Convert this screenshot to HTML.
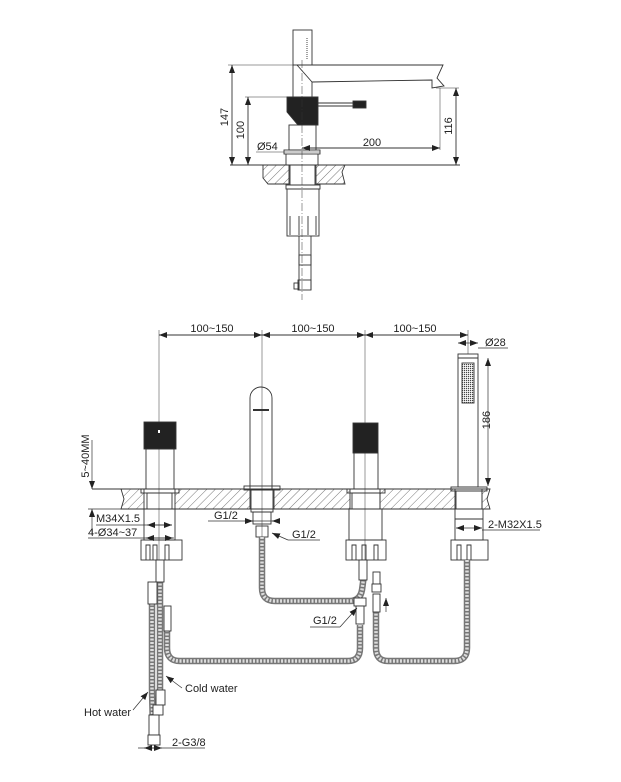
<!DOCTYPE html>
<html><head><meta charset="utf-8"><style>
html,body{margin:0;padding:0;background:#fff;}
svg{display:block;}
text{font-family:"Liberation Sans",sans-serif;fill:#222;}
</style></head><body>
<svg width="621" height="782" viewBox="0 0 621 782" xmlns="http://www.w3.org/2000/svg">
<defs>
<pattern id="h" width="6" height="6" patternUnits="userSpaceOnUse" patternTransform="rotate(45)">
<line x1="0" y1="0" x2="0" y2="6" stroke="#555" stroke-width="0.8"/>
</pattern>
<pattern id="dots" width="2" height="2" patternUnits="userSpaceOnUse">
<rect x="0" y="0" width="1.2" height="1.2" fill="#444"/>
</pattern>
<marker id="a" markerWidth="8" markerHeight="6" refX="8" refY="3" orient="auto" markerUnits="userSpaceOnUse">
<path d="M0,0 L8,3 L0,6 z" fill="#222"/></marker>
<marker id="b" markerWidth="8" markerHeight="6" refX="0" refY="3" orient="auto" markerUnits="userSpaceOnUse">
<path d="M8,0 L0,3 L8,6 z" fill="#222"/></marker>
</defs>
<g fill="none" stroke="#333" stroke-width="0.9">
<!-- ============ TOP VIEW ============ -->
<rect x="293" y="30" width="19" height="35"/>
<line x1="307" y1="38" x2="307" y2="60" stroke-dasharray="1,1"/>
<path d="M297,65 L443,65 L437,78 L444,86 L432,88 L432,80 L312,82"/>
<line x1="297" y1="65" x2="312" y2="82"/>
<line x1="293" y1="65" x2="293" y2="97"/><line x1="312" y1="82" x2="312" y2="97"/>
<path d="M287,97 L318,97 L318,125 L298,125 L287,112 z" fill="#222"/>
<line x1="318" y1="103" x2="353" y2="103"/><line x1="318" y1="106" x2="353" y2="106"/>
<rect x="353" y="101" width="13" height="7" fill="#222"/>
<rect x="289" y="125" width="27" height="25"/>
<rect x="284" y="150" width="36" height="4"/>
<line x1="286" y1="154" x2="286" y2="165"/><line x1="318" y1="154" x2="318" y2="165"/>
<line x1="230" y1="165" x2="460" y2="165"/>
<path d="M263,165 L289,165 L289,184 L268,184 L263,178 z" fill="url(#h)"/>
<path d="M316,165 L345,165 L342,172 L345,184 L316,184 z" fill="url(#h)"/>
<rect x="290" y="165" width="25" height="20"/>
<rect x="286" y="185" width="34" height="4"/>
<rect x="287" y="189" width="32" height="47"/>
<line x1="290" y1="216" x2="290" y2="235"/><line x1="299" y1="216" x2="299" y2="235"/><line x1="308" y1="216" x2="308" y2="235"/><line x1="316" y1="216" x2="316" y2="235"/>
<line x1="299" y1="236" x2="299" y2="290"/><line x1="311" y1="236" x2="311" y2="290"/>
<rect x="299" y="255" width="12" height="10"/>
<rect x="298" y="280" width="13" height="10"/><rect x="294" y="283" width="5" height="6"/>
<line x1="302" y1="60" x2="302" y2="300" stroke-dasharray="8,2,1,2" stroke-width="0.5"/>
<!-- dims -->
<line x1="232" y1="65" x2="232" y2="165" marker-start="url(#b)" marker-end="url(#a)"/>
<line x1="228" y1="65" x2="297" y2="65" stroke-width="0.5"/>
<line x1="248" y1="97" x2="248" y2="165" marker-start="url(#b)" marker-end="url(#a)"/>
<line x1="245" y1="97" x2="287" y2="97" stroke-width="0.5"/>
<line x1="456" y1="88" x2="456" y2="165" marker-start="url(#b)" marker-end="url(#a)"/>
<line x1="436" y1="88" x2="459" y2="88" stroke-width="0.5"/>
<line x1="302" y1="148" x2="440" y2="148" marker-start="url(#b)" marker-end="url(#a)"/>
<line x1="440" y1="88" x2="440" y2="150" stroke-width="0.5"/>
<line x1="256" y1="152" x2="320" y2="152" stroke-width="0.5"/>

<!-- ============ BOTTOM VIEW ============ -->
<line x1="159" y1="330" x2="159" y2="745" stroke-width="0.5"/>
<line x1="262" y1="330" x2="262" y2="540" stroke-width="0.5"/>
<line x1="365" y1="330" x2="365" y2="580" stroke-width="0.5"/>
<line x1="468" y1="330" x2="468" y2="354" stroke-width="0.5"/>
<line x1="159" y1="335" x2="262" y2="335" marker-start="url(#b)" marker-end="url(#a)"/>
<line x1="262" y1="335" x2="365" y2="335" marker-start="url(#b)" marker-end="url(#a)"/>
<line x1="365" y1="335" x2="468" y2="335" marker-start="url(#b)" marker-end="url(#a)"/>
<!-- counter -->
<line x1="92" y1="489" x2="490" y2="489"/>
<path d="M121,489 L144,489 L144,509 L121,509 L124,499 z" fill="url(#h)"/>
<path d="M175,489 L250,489 L250,509 L175,509 z" fill="url(#h)"/>
<path d="M274,489 L350,489 L350,509 L274,509 z" fill="url(#h)"/>
<path d="M380,489 L455,489 L455,509 L380,509 z" fill="url(#h)"/>
<path d="M482,489 L490,489 L487,499 L490,509 L482,509 z" fill="url(#h)"/>
<line x1="144" y1="509" x2="482" y2="509"/>
<!-- left handle -->
<rect x="144" y="422" width="32" height="27" fill="#222"/>
<rect x="158" y="430" width="2" height="3" fill="#fff" stroke="none"/>
<rect x="146" y="449" width="28" height="40"/>
<rect x="141" y="489" width="38" height="4"/>
<rect x="147" y="493" width="25" height="16"/>
<rect x="144" y="509" width="31" height="31"/>
<rect x="141" y="540" width="41" height="20"/>
<path d="M146,560 L146,545 L150,545 L150,560 M153,560 L153,545 L157,545 L157,560 M165,560 L165,545 L169,545 L169,560"/>
<!-- spout -->
<path d="M250,489 L250,398 A11,11 0 0 1 272,398 L272,489"/>
<line x1="253" y1="410" x2="269" y2="410" stroke-width="2"/>
<rect x="244" y="486" width="36" height="4"/>
<rect x="251" y="490" width="22" height="22"/>
<rect x="253" y="512" width="18" height="12"/>
<rect x="256" y="526" width="12" height="11"/>
<!-- right handle -->
<rect x="353" y="423" width="25" height="30" fill="#222"/>
<rect x="354" y="453" width="24" height="36"/>
<rect x="347" y="489" width="38" height="4"/>
<rect x="352" y="493" width="28" height="16"/>
<rect x="349" y="509" width="33" height="31"/>
<rect x="346" y="540" width="40" height="20"/>
<path d="M352,560 L352,545 L356,545 L356,560 M362,560 L362,545 L366,545 L366,560 M374,560 L374,545 L378,545 L378,560"/>
<!-- hand shower -->
<rect x="458" y="354" width="20" height="133"/>
<line x1="458" y1="358" x2="478" y2="358"/>
<rect x="462" y="363" width="12" height="40" fill="url(#dots)"/>
<rect x="451" y="487" width="36" height="4"/>
<rect x="456" y="491" width="26" height="18"/>
<rect x="455" y="509" width="28" height="31"/>
<line x1="455" y1="519" x2="483" y2="519"/>
<rect x="451" y="540" width="37" height="20"/>
<path d="M457,560 L457,545 L461,545 L461,560 M467,560 L467,545 L471,545 L471,560"/>
</g>
<!-- hoses -->
<g fill="none" stroke-linecap="butt">
<g stroke="#777" stroke-width="6.5">
<path d="M262,537 L262,588 Q262,601 275,601 L350,601 Q360,601 362,590 L364,575"/>
<path d="M167,630 L167,648 Q167,661 180,661 L348,661 Q360,661 360,648 L360,625"/>
<path d="M467,560 L467,648 Q467,661 454,661 L388,661 Q376,661 376,648 L376,612"/>
<path d="M152,600 L152,690 L153,730"/>
<path d="M160,580 L160,690 L160,715"/>
</g>
<g stroke="#ddd" stroke-width="3.5" stroke-dasharray="2,1.5">
<path d="M262,537 L262,588 Q262,601 275,601 L350,601 Q360,601 362,590 L364,575"/>
<path d="M167,630 L167,648 Q167,661 180,661 L348,661 Q360,661 360,648 L360,625"/>
<path d="M467,560 L467,648 Q467,661 454,661 L388,661 Q376,661 376,648 L376,612"/>
<path d="M152,600 L152,690 L153,730"/>
<path d="M160,580 L160,690 L160,715"/>
</g>
</g>
<g fill="#fff" stroke="#333" stroke-width="0.9">
<rect x="156" y="560" width="8" height="22"/>
<rect x="148" y="582" width="9" height="22"/>
<rect x="164" y="606" width="7" height="25"/>
<rect x="156" y="690" width="9" height="15"/>
<rect x="153" y="705" width="10" height="10"/>
<rect x="149" y="715" width="10" height="20"/>
<rect x="148" y="735" width="12" height="10"/>
<rect x="359" y="560" width="8" height="20"/>
<rect x="354" y="598" width="12" height="8"/>
<rect x="356" y="606" width="8" height="18"/>
<rect x="373" y="572" width="7" height="12"/>
<rect x="372" y="584" width="9" height="8"/>
<rect x="373" y="594" width="7" height="18"/>
</g>
<!-- leaders -->
<g fill="none" stroke="#333" stroke-width="0.7">
<line x1="92" y1="440" x2="92" y2="489" marker-end="url(#a)"/>
<line x1="92" y1="509" x2="92" y2="535" marker-start="url(#b)"/>
<line x1="88" y1="509" x2="144" y2="509"/>
<line x1="96" y1="525" x2="172" y2="525"/>
<line x1="147" y1="525" x2="172" y2="525" marker-start="url(#b)" marker-end="url(#a)"/>
<line x1="88" y1="538" x2="174" y2="538"/>
<line x1="146" y1="538" x2="173" y2="538" marker-start="url(#b)" marker-end="url(#a)"/>
<line x1="208" y1="521" x2="278" y2="521"/>
<line x1="247" y1="521" x2="253" y2="521" marker-end="url(#a)"/>
<line x1="278" y1="521" x2="272" y2="521" marker-end="url(#a)"/>
<line x1="288" y1="540" x2="272" y2="533" marker-end="url(#a)"/>
<line x1="288" y1="540" x2="320" y2="540"/>
<line x1="458" y1="343" x2="478" y2="343" marker-start="url(#b)" marker-end="url(#a)"/>
<line x1="478" y1="348" x2="508" y2="348"/>
<line x1="488" y1="358" x2="488" y2="486" marker-start="url(#b)" marker-end="url(#a)"/>
<line x1="456" y1="528" x2="482" y2="528" marker-start="url(#b)" marker-end="url(#a)"/>
<line x1="482" y1="530" x2="540" y2="530"/>
<line x1="310" y1="627" x2="340" y2="627"/>
<line x1="340" y1="627" x2="357" y2="608" marker-end="url(#a)"/>
<line x1="386" y1="612" x2="386" y2="598" marker-end="url(#a)"/>
<line x1="182" y1="688" x2="166" y2="676" marker-end="url(#a)"/>
<line x1="133" y1="710" x2="148" y2="692" marker-end="url(#a)"/>
<line x1="138" y1="748" x2="205" y2="748"/>
<line x1="144" y1="748" x2="162" y2="748" marker-start="url(#b)" marker-end="url(#a)"/>
</g>
<!-- text -->
<g font-size="11">
<text x="228" y="117" text-anchor="middle" transform="rotate(-90 228 117)">147</text>
<text x="244" y="130" text-anchor="middle" transform="rotate(-90 244 130)">100</text>
<text x="452" y="126" text-anchor="middle" transform="rotate(-90 452 126)">116</text>
<text x="372" y="146" text-anchor="middle">200</text>
<text x="257" y="150">Ø54</text>
<text x="212" y="332" text-anchor="middle">100~150</text>
<text x="313" y="332" text-anchor="middle">100~150</text>
<text x="415" y="332" text-anchor="middle">100~150</text>
<text x="485" y="346">Ø28</text>
<text x="490" y="420" text-anchor="middle" transform="rotate(-90 490 420)">186</text>
<text x="89" y="456" text-anchor="middle" transform="rotate(-90 89 456)">5~40MM</text>
<text x="96" y="522">M34X1.5</text>
<text x="88" y="536">4-Ø34~37</text>
<text x="214" y="519">G1/2</text>
<text x="292" y="538">G1/2</text>
<text x="488" y="528">2-M32X1.5</text>
<text x="313" y="624">G1/2</text>
<text x="185" y="692">Cold water</text>
<text x="84" y="716">Hot water</text>
<text x="172" y="746">2-G3/8</text>
</g>
</svg>
</body></html>
